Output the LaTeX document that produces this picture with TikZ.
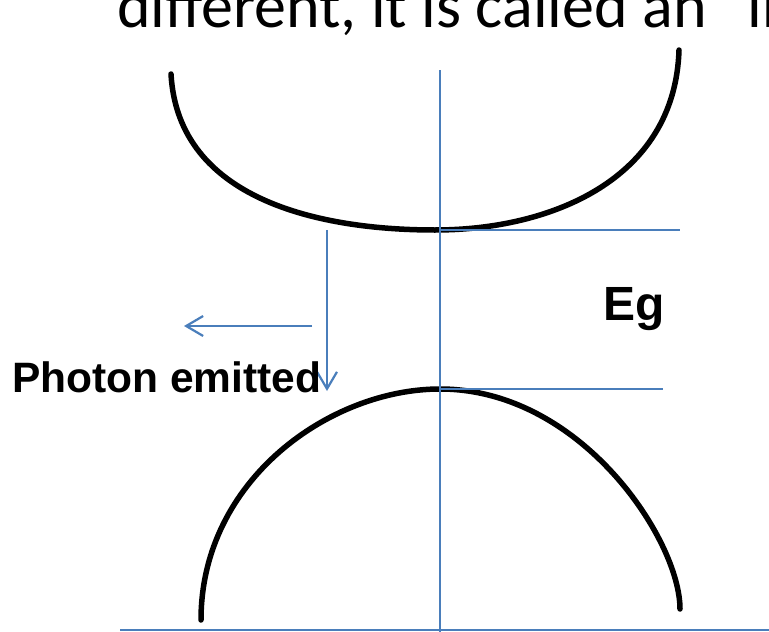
\documentclass[tikz,border=0pt]{standalone}
\usepackage{fontspec}
\setmainfont{Liberation Sans}
\newfontfamily\calib{Carlito}
\usetikzlibrary{arrows.meta}
\definecolor{lineblue}{HTML}{4A7EBB}
\begin{document}
\begin{tikzpicture}[x=1pt,y=-1pt,
  band/.style={line width=5.5pt, line cap=round},
  bluel/.style={draw=lineblue, line width=2.2pt},
  emit/.style={bluel, -{Straight Barb[length=17pt,width=20pt]}},
  lbl/.style={anchor=base west, inner sep=0pt}]
\useasboundingbox[fill=white] (0,0) rectangle (769,632);
% bands
\draw[band] (171,74) .. controls (178,200) and (320,230) .. (435,230)
            .. controls (550,230) and (675,180) .. (679,50);
\draw[band] (201,620) .. controls (201,480) and (330,389) .. (440,389)
            .. controls (581,389) and (680,540) .. (680,609);
% coordinates
\coordinate (axtop) at (440,70);
\coordinate (axbot) at (440,632);
\coordinate (baseL) at (120,630);
\coordinate (baseR) at (769,630);
\coordinate (cbmin) at (440,230);
\coordinate (cbend) at (680,230);
\coordinate (vbmax) at (440,389);
\coordinate (vbend) at (663,389);
\coordinate (dropTop) at (327,230);
\coordinate (dropEnd) at (327,391);
\coordinate (phStart) at (312,326);
\coordinate (phEnd) at (184,326);
% blue lines
\draw[bluel] (axtop) -- (axbot);
\draw[bluel] (baseL) -- (baseR);
\draw[bluel] (cbmin) -- (cbend);
\draw[bluel] (vbmax) -- (vbend);
\draw[emit] (dropTop) -- (dropEnd);
\draw[emit] (phStart) -- (phEnd);
% texts
\node[lbl, font=\calib\fontsize{64}{77}\selectfont] (caption) at (117,27) {different, it is called an “in};
\node[lbl, font=\bfseries\fontsize{42.5}{51}\selectfont] (photon) at (12,392) {Photon emitted};
\node[lbl, font=\bfseries\fontsize{48}{57}\selectfont] (eg) at (603,320) {Eg};
\end{tikzpicture}
\end{document}
